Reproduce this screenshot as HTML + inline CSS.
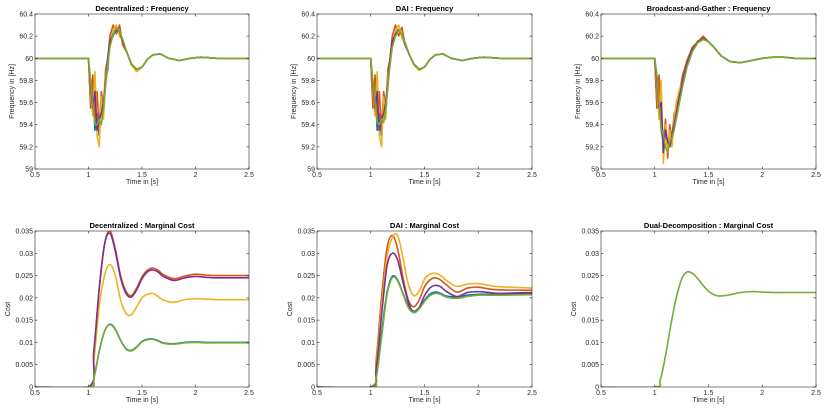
<!DOCTYPE html>
<html><head><meta charset="utf-8"><style>
html,body{margin:0;padding:0;background:#fff;}
svg text{font-family:"Liberation Sans",sans-serif;}
</style></head><body>
<svg id="fig" width="830" height="409" xmlns="http://www.w3.org/2000/svg"></svg>
<script>
const colors=["#0072BD","#D95319","#EDB120","#7E2F8E","#77AC30"];
const xTicks=[0.5,1,1.5,2,2.5];
const xTickLabels=["0.5","1","1.5","2","2.5"];
const fTicks=[59,59.2,59.4,59.6,59.8,60,60.2,60.4];
const fTickLabels=["59","59.2","59.4","59.6","59.8","60","60.2","60.4"];
const cTicks=[0,0.005,0.01,0.015,0.02,0.025,0.03,0.035];
const cTickLabels=["0","0.005","0.01","0.015","0.02","0.025","0.03","0.035"];

const tF=[0.5,1.0,1.02,1.04,1.06,1.08,1.10,1.12,1.14,1.16,1.18,1.2,1.23,1.26,1.29,1.32,1.36,1.4,1.45,1.5,1.55,1.6,1.67,1.75,1.85,1.95,2.05,2.2,2.5];
const decF=[
[60,60,59.6,59.75,59.35,59.5,59.3,59.6,59.5,59.8,59.9,60.15,60.2,60.28,60.22,60.15,60.05,59.95,59.9,59.92,59.99,60.03,60.04,60.0,59.98,60.0,60.01,60.0,60.0],
[60,60,59.55,59.85,59.45,59.7,59.35,59.7,59.55,59.9,60.0,60.2,60.3,60.22,60.3,60.12,60.05,59.95,59.89,59.92,59.99,60.03,60.04,60.0,59.98,60.0,60.01,60.0,60.0],
[60,60,59.7,59.48,59.88,59.3,59.2,59.65,59.45,59.85,59.95,60.1,60.25,60.3,60.2,60.16,60.05,59.94,59.88,59.92,59.99,60.03,60.04,60.0,59.98,60.0,60.01,60.0,60.0],
[60,60,59.75,59.55,59.7,59.35,59.45,59.5,59.6,59.78,60.0,60.15,60.22,60.25,60.25,60.15,60.05,59.95,59.9,59.92,59.99,60.03,60.04,60.0,59.98,60.0,60.01,60.0,60.0],
[60,60,59.8,59.6,59.4,59.4,59.45,59.4,59.55,59.75,59.95,60.1,60.22,60.27,60.25,60.17,60.05,59.95,59.9,59.92,59.99,60.03,60.04,60.0,59.98,60.0,60.01,60.0,60.0]];
const daiF=[
[60,60,59.6,59.75,59.35,59.5,59.3,59.6,59.5,59.8,59.95,60.15,60.22,60.26,60.2,60.12,60.03,59.95,59.9,59.92,59.99,60.03,60.04,60.0,59.98,60.0,60.01,60.0,60.0],
[60,60,59.55,59.85,59.45,59.7,59.35,59.7,59.55,59.9,60.0,60.2,60.3,60.2,60.28,60.12,60.03,59.95,59.9,59.92,59.99,60.03,60.04,60.0,59.98,60.0,60.01,60.0,60.0],
[60,60,59.7,59.48,59.88,59.3,59.2,59.65,59.45,59.85,59.95,60.1,60.25,60.3,60.18,60.14,60.03,59.94,59.89,59.92,59.99,60.03,60.04,60.0,59.98,60.0,60.01,60.0,60.0],
[60,60,59.75,59.55,59.7,59.35,59.45,59.5,59.6,59.78,60.0,60.15,60.22,60.25,60.22,60.13,60.03,59.95,59.9,59.92,59.99,60.03,60.04,60.0,59.98,60.0,60.01,60.0,60.0],
[60,60,59.8,59.6,59.42,59.4,59.45,59.42,59.55,59.75,59.95,60.1,60.2,60.25,60.22,60.14,60.03,59.95,59.9,59.92,59.99,60.03,60.04,60.0,59.98,60.0,60.01,60.0,60.0]];
const tB=[0.5,1.0,1.02,1.04,1.06,1.08,1.10,1.12,1.14,1.16,1.18,1.2,1.23,1.26,1.3,1.35,1.4,1.45,1.5,1.55,1.62,1.7,1.8,1.9,2.0,2.1,2.2,2.3,2.5];
const bgF=[
[60,60,59.6,59.8,59.35,59.25,59.4,59.2,59.3,59.3,59.45,59.5,59.65,59.8,59.95,60.08,60.15,60.18,60.15,60.1,60.02,59.97,59.96,59.98,60.0,60.01,60.01,60.0,60.0],
[60,60,59.55,59.85,59.45,59.2,59.45,59.1,59.4,59.25,59.5,59.55,59.7,59.85,59.98,60.1,60.15,60.2,60.15,60.1,60.02,59.97,59.96,59.98,60.0,60.01,60.01,60.0,60.0],
[60,60,59.75,59.45,59.8,59.05,59.4,59.15,59.35,59.2,59.45,59.6,59.72,59.8,59.95,60.08,60.16,60.18,60.15,60.1,60.02,59.97,59.96,59.98,60.0,60.01,60.01,60.0,60.0],
[60,60,59.8,59.55,59.6,59.15,59.35,59.25,59.2,59.3,59.4,59.5,59.65,59.8,59.95,60.08,60.15,60.18,60.15,60.1,60.02,59.97,59.96,59.98,60.0,60.01,60.01,60.0,60.0],
[60,60,59.85,59.6,59.35,59.32,59.2,59.15,59.25,59.28,59.35,59.45,59.6,59.75,59.92,60.06,60.14,60.17,60.15,60.1,60.02,59.97,59.96,59.98,60.0,60.01,60.01,60.0,60.0]];

const tC=[0.5,1.0,1.05,1.1,1.15,1.2,1.25,1.3,1.35,1.4,1.45,1.5,1.55,1.6,1.65,1.7,1.8,1.9,2.0,2.1,2.2,2.5];
const decC=[
[0,0,0.002,0.008,0.0125,0.0141,0.013,0.0105,0.0086,0.0082,0.009,0.0102,0.0107,0.0108,0.0104,0.0099,0.0097,0.01,0.0101,0.01,0.01,0.01],
[0,0,0.008,0.022,0.032,0.035,0.031,0.025,0.0215,0.0205,0.0222,0.0247,0.0262,0.0267,0.0262,0.0252,0.0243,0.0249,0.0253,0.0251,0.025,0.025],
[0,0,0.006,0.018,0.025,0.0275,0.025,0.0195,0.0165,0.0162,0.018,0.02,0.0208,0.021,0.0203,0.0195,0.019,0.0196,0.0198,0.0197,0.0196,0.0196],
[0,0,0.008,0.022,0.032,0.0345,0.0305,0.0245,0.021,0.0202,0.0218,0.0243,0.0258,0.0263,0.0258,0.0248,0.0239,0.0245,0.0248,0.0246,0.0245,0.0245],
[0,0,0.002,0.008,0.0125,0.014,0.0129,0.0104,0.0085,0.0081,0.0089,0.0101,0.0106,0.0107,0.0103,0.0098,0.0096,0.0099,0.01,0.0099,0.0099,0.0099]];
const daiC=[
[0,0,0.002,0.012,0.021,0.0248,0.024,0.021,0.0182,0.017,0.0178,0.0195,0.0208,0.0213,0.021,0.0204,0.0202,0.0206,0.0208,0.0208,0.0208,0.021],
[0,0,0.006,0.02,0.031,0.034,0.031,0.0245,0.0195,0.018,0.0195,0.0225,0.024,0.0245,0.024,0.023,0.0213,0.0222,0.0224,0.022,0.0218,0.0217],
[0,0,0.005,0.018,0.029,0.0335,0.034,0.029,0.023,0.0205,0.0215,0.0242,0.0253,0.0255,0.025,0.024,0.0226,0.0231,0.0232,0.0228,0.0225,0.0222],
[0,0,0.004,0.016,0.027,0.03,0.0285,0.0235,0.019,0.0167,0.0178,0.0205,0.0222,0.0228,0.0225,0.0215,0.0203,0.0212,0.0214,0.0212,0.021,0.0212],
[0,0,0.002,0.011,0.0205,0.0245,0.0238,0.0208,0.0178,0.0167,0.0175,0.0192,0.0205,0.021,0.0208,0.0202,0.0199,0.0203,0.0206,0.0206,0.0206,0.0207]];
const tD=[0.5,1.0,1.05,1.1,1.15,1.2,1.25,1.3,1.35,1.4,1.45,1.5,1.55,1.6,1.7,1.8,1.9,2.0,2.1,2.2,2.5];
const ddC=[[0,0,0.0015,0.007,0.014,0.02,0.0242,0.0258,0.0255,0.0243,0.0228,0.0215,0.0207,0.0204,0.0207,0.0212,0.0214,0.0213,0.0212,0.0212,0.0212]];

const NS="http://www.w3.org/2000/svg";
const svg=document.getElementById('fig');
function mk(tag,attrs,parent){const e=document.createElementNS(NS,tag);for(const k in attrs)e.setAttribute(k,attrs[k]);(parent||svg).appendChild(e);return e;}
function smooth(pts){let d="M"+pts[0][0]+","+pts[0][1];for(let i=0;i<pts.length-1;i++){const p0=pts[Math.max(0,i-1)],p1=pts[i],p2=pts[i+1],p3=pts[Math.min(pts.length-1,i+2)];
const c1x=p1[0]+(p2[0]-p0[0])/6,c1y=p1[1]+(p2[1]-p0[1])/6,c2x=p2[0]-(p3[0]-p1[0])/6,c2y=p2[1]-(p3[1]-p1[1])/6;d+=" C"+c1x+","+c1y+" "+c2x+","+c2y+" "+p2[0]+","+p2[1];}return d;}
function chart(o){
 const g=mk('g',{});
 
 
 const xs=v=>o.x0+(v-0.5)/2*(o.x1-o.x0);
 const ys=v=>o.y1-(v-o.ymin)/(o.ymax-o.ymin)*(o.y1-o.y0);
 const box=mk('rect',{x:o.x0,y:o.y0,width:o.x1-o.x0,height:o.y1-o.y0,fill:'#fff',stroke:'none'},g);
 
 const cp="cp"+o.name;const c=mk('clipPath',{id:cp},g);mk('rect',{x:o.x0,y:o.y0,width:o.x1-o.x0,height:o.y1-o.y0},c);
 const sg=mk('g',{'clip-path':'url(#'+cp+')'},g);
 o.series.forEach((s,i)=>{const pts=o.t.map((t,j)=>[xs(t),ys(s[j])]);
  const p=mk('path',{d:o.smooth?smooth(pts):"M"+pts.map(p=>p.join(",")).join(" L"),fill:'none',stroke:o.single?colors[4]:colors[i],'stroke-width':1.6,'stroke-linejoin':'round'},sg);
  });
 mk('rect',{x:o.x0,y:o.y0,width:o.x1-o.x0,height:o.y1-o.y0,fill:'none',stroke:'#262626','stroke-width':0.6},g);
 xTicks.forEach((v,i)=>{const x=xs(v);mk('line',{x1:x,x2:x,y1:o.y1,y2:o.y1-2.5,stroke:'#262626','stroke-width':0.6},g);mk('line',{x1:x,x2:x,y1:o.y0,y2:o.y0+2.5,stroke:'#262626','stroke-width':0.6},g);
  const t=mk('text',{x:x,y:o.y1+8,'font-size':7,'text-anchor':'middle',fill:'#262626'},g);t.textContent=xTickLabels[i];});
 o.yt.forEach((v,i)=>{const y=ys(v);mk('line',{x1:o.x0,x2:o.x0+2.5,y1:y,y2:y,stroke:'#262626','stroke-width':0.6},g);mk('line',{x1:o.x1,x2:o.x1-2.5,y1:y,y2:y,stroke:'#262626','stroke-width':0.6},g);
  const t=mk('text',{x:o.x0-2,y:y+2.5,'font-size':7,'text-anchor':'end',fill:'#262626'},g);t.textContent=o.ytl[i];});
 let t=mk('text',{x:(o.x0+o.x1)/2,y:o.y0-3,'font-size':7.5,'font-weight':'bold','text-anchor':'middle',fill:'#000'},g);t.textContent=o.title;
 t=mk('text',{x:(o.x0+o.x1)/2,y:o.y1+15,'font-size':7,'text-anchor':'middle',fill:'#262626'},g);t.textContent='Time in [s]';
 const yx=o.x0-(o.ylab=='Cost'?25:21),yy=(o.y0+o.y1)/2;
 t=mk('text',{x:yx,y:yy,'font-size':7,'text-anchor':'middle',fill:'#262626',transform:'rotate(-90 '+yx+' '+yy+')'},g);t.textContent=o.ylab;
}
const cols=[[35,249],[317,532],[601,816]];
const fr={ymin:59,ymax:60.4,y0:14,y1:169,yt:fTicks,ytl:fTickLabels,ylab:'Frequency in [Hz]'};
const cr={ymin:0,ymax:0.035,y0:231,y1:387,yt:cTicks,ytl:cTickLabels,ylab:'Cost',smooth:true};
chart(Object.assign({},fr,{name:'dec-freq',x0:cols[0][0],x1:cols[0][1],t:tF,series:decF,title:'Decentralized : Frequency'}));
chart(Object.assign({},fr,{name:'dai-freq',x0:cols[1][0],x1:cols[1][1],t:tF,series:daiF,title:'DAI : Frequency'}));
chart(Object.assign({},fr,{name:'bg-freq',x0:cols[2][0],x1:cols[2][1],t:tB,series:bgF,title:'Broadcast-and-Gather : Frequency'}));
chart(Object.assign({},cr,{name:'dec-cost',x0:cols[0][0],x1:cols[0][1],t:tC,series:decC,title:'Decentralized : Marginal Cost'}));
chart(Object.assign({},cr,{name:'dai-cost',x0:cols[1][0],x1:cols[1][1],t:tC,series:daiC,title:'DAI : Marginal Cost'}));
chart(Object.assign({},cr,{name:'dd-cost',x0:cols[2][0],x1:cols[2][1],t:tD,series:ddC,single:true,title:'Dual-Decomposition : Marginal Cost'}));
</script>
</body></html>
